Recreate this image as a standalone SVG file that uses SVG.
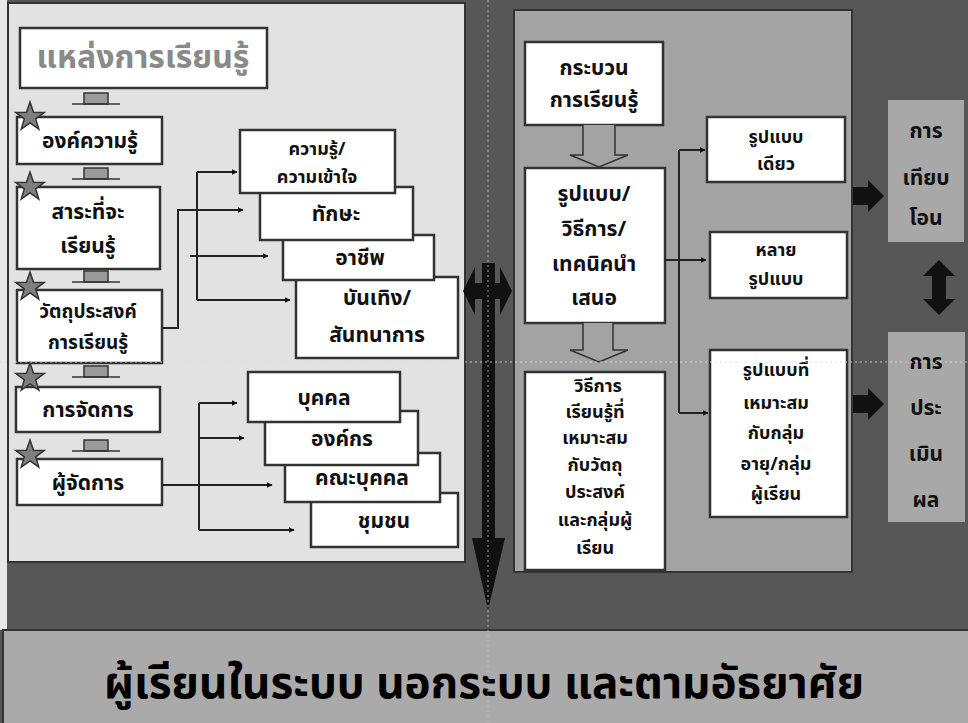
<svg xmlns="http://www.w3.org/2000/svg" width="968" height="723" viewBox="0 0 968 723">
<defs>
<style>
.bx{fill:#fff;stroke:#333;stroke-width:2.5}
.t{font-family:"Noto Sans Thai","Noto Sans","DejaVu Sans",sans-serif;font-weight:bold;font-size:21px;fill:#111;text-anchor:middle;dominant-baseline:central}
.s{font-size:18px}
.ln{fill:none;stroke:#222;stroke-width:2}
.st{fill:#7e7e7e;stroke:#333;stroke-width:1.5}
.gb{fill:#a8a8a8}
</style>
<marker id="ah" viewBox="0 0 10 10" refX="9" refY="5" markerWidth="6" markerHeight="6" orient="auto" markerUnits="userSpaceOnUse">
<path d="M0,0 L10,5 L0,10 z" fill="#111"/>
</marker>
<path id="star" d="M0,-15 L3.5,-4.8 L14.3,-4.6 L5.7,1.9 L8.8,12.1 L0,6 L-8.8,12.1 L-5.7,1.9 L-14.3,-4.6 L-3.5,-4.8 Z"/>
<g id="conn">
<rect x="-12" y="-6" width="24" height="11" fill="#9a9a9a" stroke="#333" stroke-width="1.5"/>
<line x1="-24" y1="5" x2="24" y2="5" stroke="#333" stroke-width="1.5"/>
</g>
</defs>

<rect width="968" height="723" fill="#575757"/>
<rect x="0" y="0" width="7" height="630" fill="#e8e8e8"/>
<!-- left panel -->
<rect x="8" y="3" width="457" height="559" fill="#e2e2e2" stroke="#333" stroke-width="2"/>
<!-- right panel -->
<rect x="514" y="10" width="338" height="562" fill="#a3a3a3" stroke="#333" stroke-width="2"/>
<!-- bottom band -->
<rect x="3" y="630" width="968" height="96" fill="#aaaaaa" stroke="#333" stroke-width="2"/>

<!-- left column -->
<g id="n-title">
<rect x="20" y="28" width="247" height="60" class="bx"/>
<text x="143" y="58" class="t" style="font-size:32px;fill:#8a8a8a">แหล่งการเรียนรู้</text>
</g>
<use href="#conn" x="96" y="99"/>
<use href="#conn" x="96" y="174"/>
<use href="#conn" x="96" y="277"/>
<use href="#conn" x="96" y="372"/>
<use href="#conn" x="96" y="446"/>

<g id="n-body">
<rect x="17" y="117" width="145" height="47" class="bx"/>
<text x="90" y="141" class="t">องค์ความรู้</text>
</g>
<g id="n-content">
<rect x="17" y="187" width="143" height="82" class="bx"/>
<text x="88" y="212" class="t">สาระที่จะ</text>
<text x="88" y="246" class="t">เรียนรู้</text>
</g>
<g id="n-objective">
<rect x="17" y="290" width="145" height="73" class="bx"/>
<text x="88" y="312" class="t s" style="font-size:19px">วัตถุประสงค์</text>
<text x="88" y="343" class="t s" style="font-size:19px">การเรียนรู้</text>
</g>
<g id="n-manage">
<rect x="16" y="387" width="144" height="45" class="bx"/>
<text x="88" y="410" class="t">การจัดการ</text>
</g>
<g id="n-manager">
<rect x="17" y="459" width="145" height="46" class="bx"/>
<text x="88" y="483" class="t">ผู้จัดการ</text>
</g>
<use href="#star" x="30" y="117" class="st"/>
<use href="#star" x="30" y="187" class="st"/>
<use href="#star" x="30" y="287" class="st"/>
<use href="#star" x="30" y="378" class="st"/>
<use href="#star" x="30" y="455" class="st"/>

<!-- top cascade (drawn back to front) -->
<g id="n-recreation">
<rect x="296" y="277" width="162" height="81" class="bx"/>
<text x="377" y="298" class="t">บันเทิง/</text>
<text x="377" y="335" class="t">สันทนาการ</text>
</g>
<g id="n-career">
<rect x="283" y="235" width="151" height="45" class="bx"/>
<text x="360" y="258" class="t">อาชีพ</text>
</g>
<g id="n-skill">
<rect x="260" y="187" width="153" height="53" class="bx"/>
<text x="336" y="214" class="t">ทักษะ</text>
</g>
<g id="n-knowledge">
<rect x="240" y="130" width="155" height="63" class="bx"/>
<text x="317" y="149" class="t s">ความรู้/</text>
<text x="317" y="177" class="t s">ความเข้าใจ</text>
</g>

<!-- bottom cascade -->
<g id="n-community">
<rect x="311" y="493" width="147" height="54" class="bx"/>
<text x="384" y="521" class="t">ชุมชน</text>
</g>
<g id="n-group">
<rect x="285" y="453" width="155" height="49" class="bx"/>
<text x="362" y="478" class="t">คณะบุคคล</text>
</g>
<g id="n-org">
<rect x="265" y="411" width="153" height="54" class="bx"/>
<text x="342" y="439" class="t">องค์กร</text>
</g>
<g id="n-person">
<rect x="248" y="372" width="152" height="50" class="bx"/>
<text x="324" y="398" class="t">บุคคล</text>
</g>

<!-- right panel nodes -->
<g id="n-process">
<rect x="525" y="42" width="138" height="83" class="bx"/>
<text x="594" y="68" class="t">กระบวน</text>
<text x="594" y="100" class="t">การเรียนรู้</text>
</g>
<g id="n-method">
<rect x="525" y="168" width="140" height="155" class="bx"/>
<text x="594" y="194" class="t">รูปแบบ/</text>
<text x="594" y="229" class="t">วิธีการ/</text>
<text x="594" y="264" class="t">เทคนิคนำ</text>
<text x="594" y="298" class="t">เสนอ</text>
</g>
<g id="n-suitable">
<rect x="525" y="372" width="140" height="198" class="bx"/>
<text x="598" y="386" class="t s">วิธีการ</text>
<text x="595" y="412" class="t s">เรียนรู้ที่</text>
<text x="595" y="438" class="t s">เหมาะสม</text>
<text x="595" y="465" class="t s">กับวัตถุ</text>
<text x="595" y="492" class="t s">ประสงค์</text>
<text x="595" y="520" class="t s">และกลุ่มผู้</text>
<text x="595" y="548" class="t s">เรียน</text>
</g>
<g id="n-single">
<rect x="707" y="117" width="138" height="65" class="bx"/>
<text x="776" y="137" class="t s">รูปแบบ</text>
<text x="776" y="164" class="t s">เดียว</text>
</g>
<g id="n-multi">
<rect x="710" y="232" width="137" height="66" class="bx"/>
<text x="776" y="250" class="t s">หลาย</text>
<text x="776" y="279" class="t s">รูปแบบ</text>
</g>
<g id="n-fit">
<rect x="710" y="350" width="137" height="167" class="bx"/>
<text x="776" y="370" class="t s">รูปแบบที่</text>
<text x="776" y="403" class="t s">เหมาะสม</text>
<text x="776" y="433" class="t s">กับกลุ่ม</text>
<text x="776" y="464" class="t s">อายุ/กลุ่ม</text>
<text x="776" y="494" class="t s">ผู้เรียน</text>
</g>
<g id="n-transfer">
<rect x="888" y="100" width="76" height="142" class="gb"/>
<text x="926" y="131" class="t">การ</text>
<text x="926" y="178" class="t">เทียบ</text>
<text x="926" y="218" class="t">โอน</text>
</g>
<g id="n-eval">
<rect x="888" y="332" width="77" height="190" class="gb"/>
<text x="926" y="362" class="t">การ</text>
<text x="926" y="408" class="t">ประ</text>
<text x="926" y="454" class="t">เมิน</text>
<text x="926" y="500" class="t">ผล</text>
</g>
<g id="n-learner">
<text x="484" y="684" class="t" style="font-size:44px;fill:#000">ผู้เรียนในระบบ  นอกระบบ และตามอัธยาศัย</text>
</g>

<!-- connectors -->
<g id="connectors">
<polyline class="ln" points="162,328 178,328 178,210 243,210" marker-end="url(#ah)"/>
<line class="ln" x1="197" y1="172" x2="197" y2="300"/>
<line class="ln" x1="197" y1="172" x2="237" y2="172" marker-end="url(#ah)"/>
<line class="ln" x1="190" y1="256" x2="268" y2="256" marker-end="url(#ah)"/>
<line class="ln" x1="197" y1="300" x2="290" y2="300" marker-end="url(#ah)"/>
<line class="ln" x1="199" y1="403" x2="199" y2="530"/>
<line class="ln" x1="199" y1="403" x2="237" y2="403" marker-end="url(#ah)"/>
<line class="ln" x1="199" y1="438" x2="244" y2="438" marker-end="url(#ah)"/>
<line class="ln" x1="162" y1="485" x2="272" y2="485" marker-end="url(#ah)"/>
<line class="ln" x1="199" y1="530" x2="294" y2="530" marker-end="url(#ah)"/>
<line class="ln" x1="665" y1="260" x2="706" y2="260" marker-end="url(#ah)"/>
<line class="ln" x1="679" y1="150" x2="679" y2="413"/>
<line class="ln" x1="679" y1="150" x2="705" y2="150" marker-end="url(#ah)"/>
<line class="ln" x1="679" y1="413" x2="708" y2="413" marker-end="url(#ah)"/>
<path d="M583,125 V155 H570 L599,167 L628,155 H615 V125" fill="#a3a3a3" stroke="#333" stroke-width="1.5"/>
<path d="M583,323 V350 H570 L599,362 L628,350 H613 V323" fill="#a3a3a3" stroke="#333" stroke-width="1.5"/>
<path d="M853,187 H868 V180 L884,196 L868,212 V205 H853 Z" fill="#111"/>
<path d="M853,395 H868 V388 L884,404 L868,420 V413 H853 Z" fill="#111"/>
<path d="M939,260 L955,276 H946 V299 H955 L939,315 L923,299 H932 V276 H923 Z" fill="#111"/>
<path d="M482,263 H495 V538 H505 L488,610 L472,538 H482 Z" fill="#111"/>
<path d="M463,291 L475,267 V315 Z M512,291 L500,267 V315 Z" fill="#111"/>
<rect x="475" y="283" width="25" height="16" fill="#111"/>
</g>
<line x1="0" y1="362" x2="968" y2="362" stroke="#dddddd" stroke-width="1.2" stroke-dasharray="2,3" opacity="0.8"/>
<line x1="488" y1="0" x2="488" y2="723" stroke="#bbbbbb" stroke-width="1.2" stroke-dasharray="2,3" opacity="0.7"/>
</svg>
